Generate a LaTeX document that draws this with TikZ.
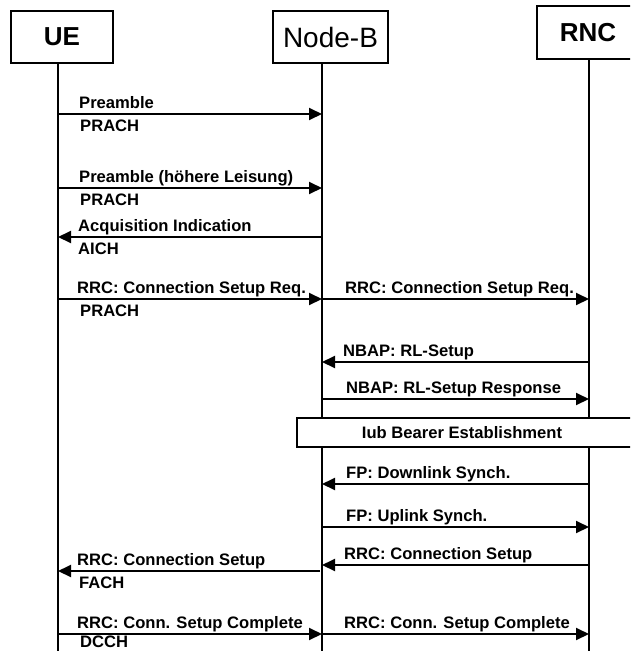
\documentclass[tikz,border=0pt]{standalone}
\usepackage{fontspec}
\setmainfont{Liberation Sans}
\usetikzlibrary{arrows.meta}
\begin{document}
\begin{tikzpicture}[x=1pt,y=-1pt,
  entity/.style={draw,line width=2pt,fill=white,inner sep=0pt,minimum height=52pt,
    font=\fontsize{26}{30}\selectfont},
  life/.style={line width=2pt},
  msg/.style={line width=2pt,-{Triangle[length=13pt,width=12pt]}},
  lbl/.style={inner sep=0pt,anchor=base west,font=\fontsize{16.6}{19}\selectfont\bfseries},
  phase/.style={draw,line width=2pt,fill=white,inner sep=0pt}]
\useasboundingbox (0,0) rectangle (630,651);
\clip (0,0) rectangle (630,651);
\fill[white] (0,0) rectangle (630,651);

% entities
\node[entity,minimum width=102pt,font=\fontsize{26}{30}\selectfont\bfseries] (ue) at (62,37) {UE};
\node[entity,minimum width=115pt,font=\fontsize{28}{32}\selectfont] (nb) at (330.5,37) {Node-B};
\node[entity,minimum width=102pt,minimum height=53pt,font=\fontsize{26}{30}\selectfont\bfseries] (rnc) at (588,32.5) {RNC};

% lifelines
\coordinate (ueT) at (58,63);   \coordinate (ueB) at (58,655);
\coordinate (nbT) at (322,63);  \coordinate (nbB) at (322,655);
\coordinate (rncT) at (589,59); \coordinate (rncB) at (589,655);
\draw[life] (ueT) -- (ueB);
\draw[life] (nbT) -- (nbB);
\draw[life] (rncT) -- (rncB);

% Preamble
\coordinate (u1) at (58,114); \coordinate (n1) at (322,114);
\draw[msg] (u1) -- (n1);
\node[lbl] (t1a) at (79,108) {Preamble};
\node[lbl] (t1b) at (80,131) {PRACH};

% Preamble, higher power
\coordinate (u2) at (58,188); \coordinate (n2) at (322,188);
\draw[msg] (u2) -- (n2);
\node[lbl] (t2a) at (79,182) {Preamble (höhere Leisung)};
\node[lbl] (t2b) at (80,205) {PRACH};

% Acquisition indication
\coordinate (u3) at (58,237); \coordinate (n3) at (322,237);
\draw[msg] (n3) -- (u3);
\node[lbl] (t3a) at (78,231) {Acquisition Indication};
\node[lbl] (t3b) at (78,254) {AICH};

% RRC connection setup request
\coordinate (u4) at (58,299); \coordinate (n4) at (322,299); \coordinate (r4) at (589,299);
\draw[msg] (u4) -- (n4);
\draw[msg] (n4) -- (r4);
\node[lbl] (t4a) at (77,293) {RRC: Connection Setup Req.};
\node[lbl] (t4b) at (80,316) {PRACH};
\node[lbl] (t4c) at (345,293) {RRC: Connection Setup Req.};

% NBAP
\coordinate (n5) at (322,362); \coordinate (r5) at (589,362);
\draw[msg] (r5) -- (n5);
\node[lbl] (t5) at (343,356) {NBAP: RL-Setup};
\coordinate (n6) at (322,399); \coordinate (r6) at (589,399);
\draw[msg] (n6) -- (r6);
\node[lbl] (t6) at (346,393) {NBAP: RL-Setup Response};

% Iub bearer
\node[phase,minimum width=335pt,minimum height=29pt] (iub) at (464.5,432.5) {};
\node[lbl,anchor=center] (t7) at (462,433) {Iub Bearer Establishment};

% FP synchronisation
\coordinate (n8) at (322,484); \coordinate (r8) at (589,484);
\draw[msg] (r8) -- (n8);
\node[lbl] (t8) at (346,478) {FP: Downlink Synch.};
\coordinate (n9) at (322,527); \coordinate (r9) at (589,527);
\draw[msg] (n9) -- (r9);
\node[lbl] (t9) at (346,521) {FP: Uplink Synch.};

% RRC connection setup
\coordinate (n10) at (322,565); \coordinate (r10) at (589,565);
\draw[msg] (r10) -- (n10);
\node[lbl] (t10a) at (344,559) {RRC: Connection Setup};
\coordinate (u11) at (58,571); \coordinate (n11) at (320,571);
\draw[msg] (n11) -- (u11);
\node[lbl] (t11a) at (77,565) {RRC: Connection Setup};
\node[lbl] (t11b) at (79,588) {FACH};

% RRC connection setup complete
\coordinate (u12) at (58,634); \coordinate (n12) at (322,634); \coordinate (r12) at (589,634);
\draw[msg] (u12) -- (n12);
\draw[msg] (n12) -- (r12);
\node[lbl] (t12a) at (77,628) {RRC: Conn. Setup Complete};
\node[lbl] (t12b) at (80,647) {DCCH};
\node[lbl] (t12c) at (344,628) {RRC: Conn. Setup Complete};
\end{tikzpicture}
\end{document}
